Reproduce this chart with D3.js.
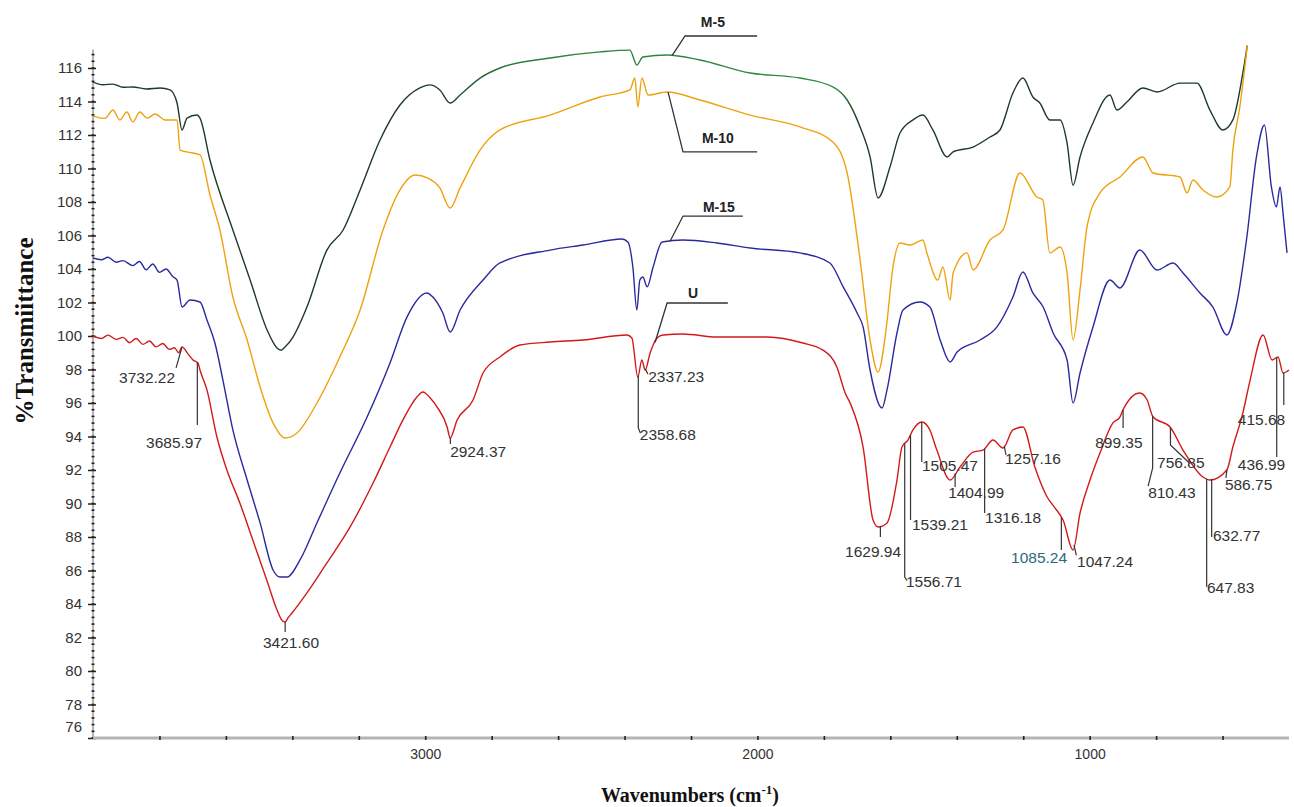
<!DOCTYPE html>
<html>
<head>
<meta charset="utf-8">
<script src="https://cdn.jsdelivr.net/npm/d3@7"></script>
<style>
  body { margin: 0; background: #fff; }
  svg { display: block; }
</style>
</head>
<body>
<svg id="chart" width="1294" height="807"></svg>
<script>
// FTIR spectra, [wavenumber cm-1, %T]
const seriesU = [
  [4000,100.0],[3975,99.85],[3955,100.05],[3930,99.8],[3910,99.92],[3890,99.6],[3870,99.85],[3850,99.5],
  [3830,99.7],[3810,99.35],[3790,99.55],[3770,99.2],[3755,99.3],[3742,99.0],[3732,99.35],[3714,98.93],
  [3699,98.57],[3684,98.39],[3678,97.97],[3657,96.78],[3627,93.97],[3597,92.0],[3558,90.03],[3519,87.82],
  [3477,85.43],[3446,83.64],[3430,83.0],[3422,82.93],[3412,83.2],[3401,83.46],[3356,84.66],[3296,86.45],
  [3226,88.6],[3157,91.22],[3106,93.37],[3067,94.99],[3025,96.36],[3007,96.66],[2985,96.3],[2964,95.76],
  [2934,94.57],[2925,93.91],[2904,94.99],[2856,96.18],[2826,97.79],[2775,98.75],[2715,99.46],[2624,99.64],
  [2525,99.76],[2393,100.06],[2378,99.88],[2360,97.55],[2348,98.57],[2338,97.97],[2323,98.99],[2302,99.88],
  [2284,100.06],[2224,100.12],[2122,99.94],[1971,99.94],[1863,99.58],[1803,99.16],[1761,98.15],[1736,96.6],
  [1721,96.0],[1682,93.37],[1652,89.01],[1637,88.6],[1610,88.84],[1580,91.4],[1565,93.37],[1547,93.79],
  [1532,94.39],[1505,94.87],[1481,94.39],[1460,93.19],[1420,91.4],[1390,92.18],[1351,93.07],[1321,93.19],
  [1291,93.79],[1261,93.31],[1231,94.39],[1201,94.57],[1165,92.18],[1128,90.39],[1104,89.73],[1080,89.01],
  [1050,87.22],[1029,89.43],[999,91.4],[969,93.01],[930,94.81],[909,95.16],[900,95.58],[849,96.6],
  [827,96.18],[809,95.16],[758,94.57],[719,93.19],[659,91.58],[638,91.4],[587,92.0],[569,93.37],
  [539,95.4],[517,97.37],[478,100.06],[451,98.57],[433,98.75],[418,97.79],[400,97.97]
];
const seriesM15 = [
  [4000,104.66],[3975,104.55],[3955,104.7],[3930,104.4],[3910,104.5],[3880,104.2],[3860,104.45],
  [3840,103.95],[3820,104.3],[3800,103.8],[3780,104.0],[3760,103.55],[3747,103.34],[3732,101.73],
  [3708,102.15],[3678,102.03],[3657,100.96],[3633,99.58],[3609,97.37],[3579,94.39],[3536,91.4],
  [3497,88.84],[3458,86.03],[3437,85.61],[3416,85.61],[3377,86.63],[3326,88.84],[3257,91.82],
  [3175,95.16],[3106,98.39],[3055,101.13],[2995,102.57],[2977,102.33],[2947,101.37],[2925,100.24],
  [2895,101.55],[2826,103.34],[2775,104.36],[2624,105.13],[2525,105.43],[2408,105.79],[2390,105.61],
  [2375,104.12],[2363,101.55],[2354,103.34],[2345,103.52],[2332,102.93],[2314,104.12],[2287,105.61],
  [2224,105.73],[2122,105.55],[2022,105.25],[1872,104.96],[1782,104.36],[1742,102.93],[1700,101.37],
  [1682,100.54],[1661,97.97],[1625,95.7],[1610,96.78],[1580,100.18],[1562,101.55],[1511,102.03],
  [1481,101.73],[1450,99.76],[1420,98.45],[1399,99.04],[1330,99.76],[1279,100.54],[1231,102.33],
  [1201,103.82],[1171,102.57],[1140,101.73],[1110,100.18],[1068,98.57],[1050,96.0],[1029,97.79],
  [990,100.54],[939,103.34],[909,102.87],[849,105.13],[797,103.94],[749,104.36],[719,103.76],
  [668,102.57],[629,101.73],[587,100.06],[557,101.97],[528,105.73],[498,110.69],[474,112.6],
  [453,108.9],[438,107.7],[427,108.9],[418,107.34],[406,104.96]
];
const seriesM10 = [
  [4000,113.13],[3964,112.99],[3940,113.49],[3919,112.9],[3898,113.37],[3880,112.78],[3859,113.37],
  [3837,113.01],[3813,113.25],[3783,112.9],[3747,112.9],[3738,111.1],[3717,110.99],[3678,110.81],
  [3648,108.42],[3618,106.33],[3579,102.33],[3536,99.76],[3497,96.96],[3458,94.81],[3422,93.91],
  [3386,94.21],[3326,96.0],[3257,98.75],[3196,101.55],[3127,106.33],[3076,108.72],[3031,109.61],
  [2992,109.43],[2956,108.84],[2925,107.64],[2895,108.84],[2835,111.1],[2775,112.3],[2624,113.19],
  [2474,114.27],[2384,114.69],[2369,115.4],[2360,113.67],[2348,115.4],[2329,114.39],[2272,114.57],
  [2173,114.09],[2022,113.19],[1872,112.48],[1773,111.58],[1730,109.73],[1691,104.54],[1661,99.76],
  [1637,97.85],[1613,100.36],[1592,104.12],[1571,105.55],[1541,105.43],[1502,105.73],[1490,104.96],
  [1457,103.34],[1442,104.12],[1420,102.15],[1411,103.76],[1369,104.96],[1351,103.94],[1300,105.73],
  [1261,106.33],[1210,109.73],[1159,108.3],[1141,108.12],[1120,104.96],[1089,105.31],[1068,103.76],
  [1050,99.76],[1029,102.75],[1008,106.51],[969,108.54],[909,109.49],[840,110.69],[809,109.73],
  [728,109.49],[707,108.54],[689,109.31],[659,108.72],[617,108.3],[578,108.9],[569,111.1],[548,113.67],
  [527,117.07],[517,118.87]
];
const seriesM5 = [
  [4000,115.16],[3970,115.0],[3940,115.04],[3910,114.85],[3880,114.87],[3840,114.75],[3798,114.81],
  [3768,114.69],[3747,113.91],[3732,112.3],[3717,113.01],[3687,113.19],[3678,113.01],[3648,110.51],
  [3579,106.33],[3527,103.34],[3476,100.36],[3446,99.28],[3434,99.15],[3422,99.34],[3398,99.94],
  [3356,101.73],[3296,105.13],[3247,106.33],[3196,108.72],[3136,111.7],[3076,113.79],[3016,114.81],
  [2986,114.99],[2956,114.69],[2925,113.91],[2895,114.39],[2835,115.4],[2775,116.0],[2624,116.6],
  [2474,116.96],[2384,117.07],[2363,116.18],[2345,116.66],[2272,116.78],[2173,116.48],[2022,115.7],
  [1872,115.4],[1773,114.87],[1730,114.09],[1691,112.48],[1661,110.69],[1637,108.24],[1601,110.09],
  [1571,112.12],[1532,112.9],[1502,113.19],[1472,112.3],[1429,110.69],[1411,110.99],[1351,111.28],
  [1300,111.88],[1270,112.3],[1231,114.51],[1201,115.4],[1171,114.27],[1150,113.91],[1120,112.9],
  [1089,112.9],[1068,111.52],[1050,109.01],[1029,110.69],[990,112.72],[939,114.39],[918,113.49],
  [888,113.97],[840,114.81],[797,114.57],[728,115.1],[677,115.1],[638,113.49],[599,112.3],[569,112.9],
  [539,115.7],[527,117.19],[517,118.87]
];

// series names with leader [curve wn, elbow wn, elbow %T, end wn] and text [wn, %T]
const seriesNames = ["M-5", "M-10", "M-15", "U"];
const nameLeaders = [
  [2257, 2218, 117.91, 2001],
  [2269, 2224, 110.99, 2001],
  [2263, 2224, 107.16, 2044],
  [2308, 2272, 101.97, 2089]
];
const nameText = [[2134, 118.45], [2119, 111.52], [2116, 107.4], [2194, 102.27]];

// peak labels on U: label, leader points after the curve point [wn, %T], text [wn, %T], anchor
const peakLabels = ["3732.22","3685.97","3421.60","2924.37","2358.68","2337.23","1629.94","1556.71",
  "1539.21","1505.47","1404.99","1316.18","1257.16","1085.24","1047.24","899.35","810.43","756.85",
  "647.83","632.77","586.75","436.99","415.68"];
const peakLeaders = [
  [[3750, 98.1]],
  [[3685.97, 94.69]],
  [[3421.6, 82.33]],
  [[2924.37, 93.55]],
  [[2358.68, 94.51], [2352, 94.2]],
  [[2330, 97.73]],
  [[1629.94, 88.0]],
  [[1556.71, 85.61], [1550, 85.4]],
  [[1539.21, 89.01]],
  [[1505.47, 92.48]],
  [[1404.99, 90.99]],
  [[1316.18, 89.43]],
  [[1252, 92.9]],
  [[1085.24, 87.22]],
  [[1040, 86.9]],
  [[899.35, 94.51]],
  [[810.43, 92.12], [824, 91.04]],
  [[756.85, 93.49], [700, 92.42]],
  [[647.83, 85.01]],
  [[632.77, 88.0]],
  [[590, 91.52]],
  [[436.99, 92.78]],
  [[415.68, 95.88]]
];
const peakText = [
  [3753, 97.19, "end"], [3756, 93.31, "middle"], [3404, 81.37, "middle"], [2925, 92.78, "start"],
  [2354, 93.79, "start"], [2329, 97.25, "start"], [1652, 86.81, "middle"], [1553, 85.01, "start"],
  [1535, 88.42, "start"], [1505, 91.94, "start"], [1426, 90.33, "start"], [1315, 88.84, "start"],
  [1255, 92.36, "start"], [1068, 86.45, "end"], [1038, 86.21, "start"], [912, 93.31, "middle"],
  [824, 90.33, "start"], [797, 92.12, "start"], [647, 84.66, "start"], [629, 87.76, "start"],
  [593, 90.81, "start"], [554, 92.0, "start"], [554, 94.69, "start"]
];

const yMajor = d3.range(76, 117, 2);
const yMinor = d3.range(76, 117.1, 0.4);
const xMinor = d3.range(3800, 401, -200);
const xLabels = [3000, 2000, 1000];

const svg = d3.select("#chart");
const x = d3.scaleLinear().domain([4000, 400]).range([93, 1289]);
const y = d3.scaleLinear().domain([76, 116]).range([738, 68]);
const yTop = 117.1;

const colors = { "M-5": "url(#greenGrad)", "M-10": "#f0a20e", "M-15": "#2a2a9e", "U": "#d21a1a" };
const allSeries = { "M-5": seriesM5, "M-10": seriesM10, "M-15": seriesM15, "U": seriesU };

const defs = svg.append("defs");
defs.append("clipPath").attr("id", "plotClip")
  .append("rect")
  .attr("x", x(4000)).attr("y", y(117.35))
  .attr("width", x(400) - x(4000) + 2).attr("height", y(76) - y(117.35));

const grad = defs.append("linearGradient").attr("id", "greenGrad")
  .attr("gradientUnits", "userSpaceOnUse")
  .attr("x1", x(4000)).attr("x2", x(400)).attr("y1", 0).attr("y2", 0);
[[x(2950), "#1d3b26"], [x(2750), "#2b7f3a"], [x(1760), "#2f8f40"], [x(1700), "#1d3b26"]]
  .forEach(([px, c]) => grad.append("stop")
    .attr("offset", (px - x(4000)) / (x(400) - x(4000)))
    .attr("stop-color", c));

// axes
const yAxisG = svg.append("g").attr("transform", `translate(${x(4000)},0)`);
yAxisG.append("line")
  .attr("y1", y(76)).attr("y2", y(yTop))
  .attr("stroke", "#9a9a9a").attr("stroke-width", 1.5);
yAxisG.selectAll("line.minor").data(yMinor).join("line")
  .attr("class", "minor")
  .attr("x1", -1.5).attr("x2", 1.5)
  .attr("y1", (d) => y(d)).attr("y2", (d) => y(d))
  .attr("stroke", "#222").attr("stroke-width", 1.6);
yAxisG.call(
  d3.axisLeft(y).tickValues(yMajor).tickSize(5).tickPadding(6)
)
  .call((g) => g.select(".domain").remove())
  .call((g) => g.selectAll(".tick line").attr("x2", -5).attr("x1", 3).attr("stroke", "#222").attr("stroke-width", 1.5))
  .call((g) => g.selectAll(".tick text")
    .attr("font-family", "Liberation Sans, Arial, sans-serif")
    .attr("font-size", 15).attr("fill", "#333")
    .attr("dy", (d) => (d === 76 ? "-0.45em" : "0.32em")));

const xAxisG = svg.append("g").attr("transform", `translate(0,${y(76)})`);
xAxisG.call(
  d3.axisBottom(x).tickValues(xMinor).tickSize(3).tickPadding(8)
    .tickFormat((d) => (xLabels.includes(d) ? d : ""))
)
  .call((g) => g.select(".domain").attr("stroke", "#b4b4b4").attr("stroke-width", 3).attr("d", `M${x(4000)},0H${x(400)}`))
  .call((g) => g.selectAll(".tick line").attr("y1", -2).attr("y2", 2).attr("stroke", "#222").attr("stroke-width", 1.6))
  .call((g) => g.selectAll(".tick text")
    .attr("font-family", "Liberation Sans, Arial, sans-serif")
    .attr("font-size", 14).attr("fill", "#333"));

// axis titles
svg.append("text")
  .attr("transform", "translate(33,331) rotate(-90)")
  .attr("text-anchor", "middle")
  .attr("font-family", "Liberation Serif, Times New Roman, serif")
  .attr("font-weight", "bold").attr("font-size", 25).attr("fill", "#111")
  .text("%Transmiittance");

const xt = svg.append("text")
  .attr("x", 690).attr("y", 802)
  .attr("text-anchor", "middle")
  .attr("font-family", "Liberation Serif, Times New Roman, serif")
  .attr("font-weight", "bold").attr("font-size", 20).attr("fill", "#111");
xt.append("tspan").text("Wavenumbers (cm");
xt.append("tspan").attr("font-size", 13).attr("dy", -8).text("-1");
xt.append("tspan").attr("dy", 8).text(")");

// spectra
const line = d3.line().x((d) => x(d[0])).y((d) => y(d[1])).curve(d3.curveMonotoneX);
const plot = svg.append("g").attr("clip-path", "url(#plotClip)");
plot.selectAll("path").data(seriesNames).join("path")
  .attr("fill", "none")
  .attr("stroke", (d) => colors[d])
  .attr("stroke-width", 1.4)
  .attr("stroke-linejoin", "round")
  .attr("d", (d) => line(allSeries[d]));

function valueAt(data, w) {
  for (let i = 0; i < data.length - 1; i++) {
    const [w0, v0] = data[i];
    const [w1, v1] = data[i + 1];
    if (w <= w0 && w >= w1) return v0 + ((w - w0) / (w1 - w0)) * (v1 - v0);
  }
  return data[data.length - 1][1];
}

// series name labels
const lead = d3.line().x((d) => x(d[0])).y((d) => y(d[1]));
seriesNames.forEach((name, i) => {
  const [cw, ew, ev, endw] = nameLeaders[i];
  const pts = [[cw, valueAt(allSeries[name], cw)], [ew, ev], [endw, ev]];
  svg.append("path").attr("d", lead(pts))
    .attr("fill", "none").attr("stroke", "#333").attr("stroke-width", 1.3);
  svg.append("text")
    .attr("x", x(nameText[i][0])).attr("y", y(nameText[i][1]))
    .attr("text-anchor", "middle")
    .attr("font-family", "Liberation Sans, Arial, sans-serif")
    .attr("font-weight", "bold").attr("font-size", 14).attr("fill", "#222")
    .text(name);
});

// peak labels on U
const peaks = svg.append("g");
peakLabels.forEach((label, i) => {
  const w = parseFloat(label);
  const pts = [[w, valueAt(seriesU, w)], ...peakLeaders[i]];
  peaks.append("path").attr("d", lead(pts))
    .attr("fill", "none").attr("stroke", "#333").attr("stroke-width", 1.2);
  const [tw, tv, anchor] = peakText[i];
  peaks.append("text")
    .attr("x", x(tw)).attr("y", y(tv))
    .attr("text-anchor", anchor)
    .attr("font-family", "Liberation Sans, Arial, sans-serif")
    .attr("font-size", 15.5)
    .attr("fill", label === "1085.24" ? "#2b6b78" : "#333")
    .text(label);
});
</script>
</body>
</html>
